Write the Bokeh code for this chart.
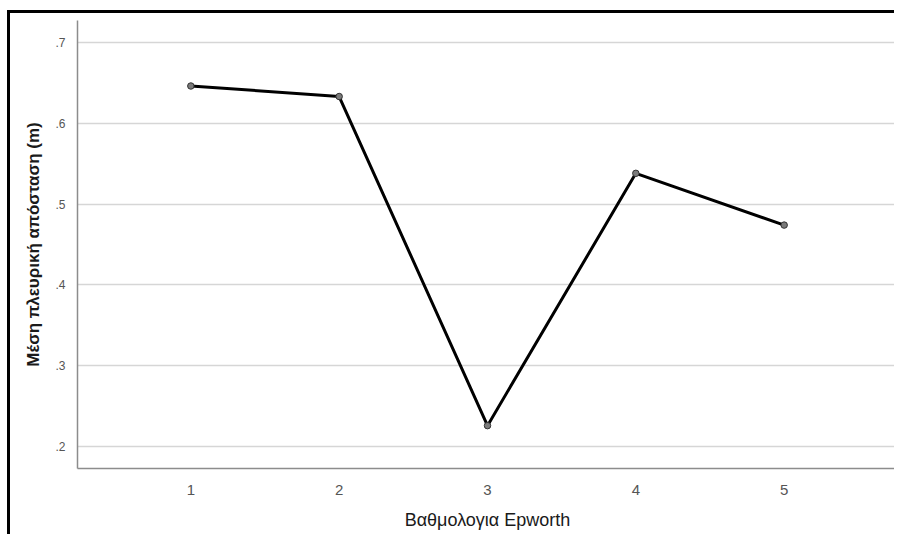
from bokeh.plotting import figure
from bokeh.models import FixedTicker, Range1d
from bokeh.embed import file_html
from bokeh.resources import INLINE

# Data
scores = [1, 2, 3, 4, 5]
mean_lateral = [0.646, 0.633, 0.226, 0.538, 0.474]
y_ticks = [0.2, 0.3, 0.4, 0.5, 0.6, 0.7]
y_tick_labels = [".2", ".3", ".4", ".5", ".6", ".7"]
x_title = "Βαθμολογια Epworth"
y_title = "Μέση πλευρική απόσταση (m)"

p = figure(width=887, height=524, output_backend="svg", toolbar_location=None,
           x_range=Range1d(0.236, 5.764), y_range=Range1d(0.173, 0.727),
           min_border_left=67, min_border_right=0, min_border_top=7, min_border_bottom=69)
p.styles = {"margin-left": "7px", "margin-top": "10px",
            "border-left": "3px solid black", "border-top": "3px solid black"}
p.outline_line_color = None
p.background_fill_color = "white"
p.border_fill_color = "white"

p.line(scores, mean_lateral, line_color="black", line_width=3)
p.scatter(scores, mean_lateral, size=6.5, fill_color="#7a7a7a", line_color="#333333", line_width=1)

p.xgrid.grid_line_color = None
p.ygrid.grid_line_color = "#d6d6d6"
p.ygrid.grid_line_width = 1.5

p.xaxis.ticker = FixedTicker(ticks=scores)
p.yaxis.ticker = FixedTicker(ticks=y_ticks)
p.yaxis.major_label_overrides = {t: l for t, l in zip(y_ticks, y_tick_labels)}

for ax in (p.xaxis[0], p.yaxis[0]):
    ax.axis_line_color = "#8c8c8c"
    ax.axis_line_width = 1.5
    ax.major_tick_line_color = None
    ax.minor_tick_line_color = None
    ax.major_label_text_color = "#555555"
    ax.major_label_text_font = "Liberation Sans"
    ax.axis_label_text_font = "Liberation Sans"
    ax.axis_label_text_color = "#1a1a1a"
    ax.axis_label_text_font_style = "normal"

p.xaxis.major_label_text_font_size = "15px"
p.yaxis.major_label_text_font_size = "12px"
p.xaxis.major_label_standoff = 10
p.yaxis.major_label_standoff = 6
p.xaxis.axis_label = x_title
p.yaxis.axis_label = y_title
p.xaxis.axis_label_text_font_size = "18px"
p.yaxis.axis_label_text_font_size = "17px"
p.yaxis.axis_label_text_font_style = "bold"
p.xaxis.axis_label_standoff = 12
p.yaxis.axis_label_standoff = 9

open("out.html", "w").write(file_html(p, INLINE))
